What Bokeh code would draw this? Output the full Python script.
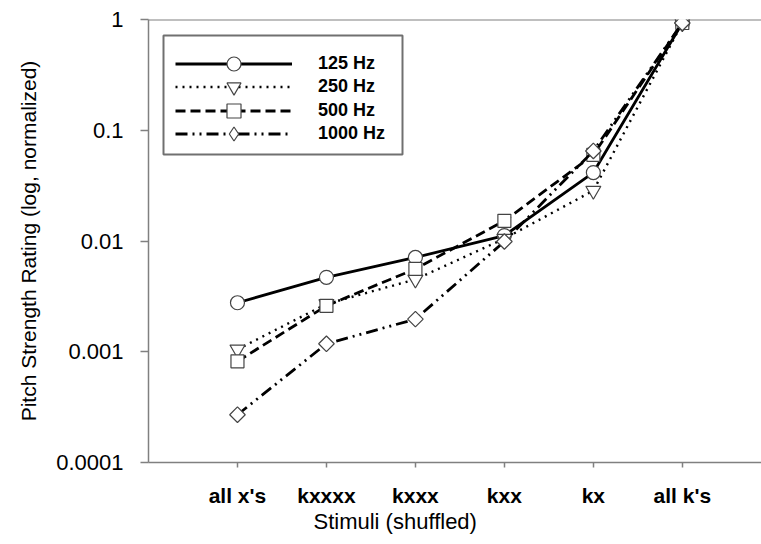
import math
from bokeh.plotting import figure
from bokeh.models import (FixedTicker, Span, Legend, LegendItem, Range1d, Title,
                          BoxAnnotation)
from bokeh.embed import file_html
from bokeh.resources import INLINE

categories = ["all x's", "kxxxx", "kxxx", "kxx", "kx", "all k's"]
x_pos = [1, 2, 3, 4, 5, 6]
hz125 = [0.00277, 0.0047, 0.0071, 0.0112, 0.0415, 0.93]
hz250 = [0.00105, 0.0027, 0.0045, 0.0105, 0.0285, 0.93]
hz500 = [0.00082, 0.0026, 0.0056, 0.0152, 0.060, 0.93]
hz1000 = [0.00027, 0.00118, 0.00197, 0.0099, 0.065, 0.93]
series_names = ["125 Hz", "250 Hz", "500 Hz", "1000 Hz"]
y_ticks = [0.0001, 0.001, 0.01, 0.1, 1]
y_tick_labels = ["0.0001", "0.001", "0.01", "0.1", "1"]

FONT = "Liberation Sans"
GREY = "#808080"

p = figure(width=761, height=544, y_axis_type="log",
           x_range=Range1d(0, 6.89), y_range=Range1d(0.0001, 1),
           output_backend="svg", toolbar_location=None,
           min_border_left=148, min_border_right=0, min_border_top=19,
           min_border_bottom=82)
p.outline_line_color = None
p.xgrid.visible = False
p.ygrid.visible = False
p.background_fill_color = "white"
p.border_fill_color = "white"

# top line at 1
p.add_layout(Span(location=1, dimension="width", line_color=GREY,
                  line_width=2, level="underlay"))

styles = [
    dict(line_dash="solid", line_width=2.8, marker="circle", size=14, angle=0, legend_marker="circle"),
    dict(line_dash="2 5", line_width=2.4, marker="inverted_triangle", size=15, angle=0, legend_marker="inverted_triangle"),
    dict(line_dash="10 5", line_width=2.8, marker="square", size=13, angle=0, legend_marker="square"),
    dict(line_dash="12 5 2 5 2 5", line_width=2.8, marker="square", size=11, angle=math.pi / 4, legend_marker="diamond"),
]
data = [hz125, hz250, hz500, hz1000]

# legend frame (screen units, relative to the plot frame)
p.add_layout(BoxAnnotation(left=15, right=254, bottom=308, top=427,
                           left_units="screen", right_units="screen",
                           bottom_units="screen", top_units="screen",
                           fill_color="white", fill_alpha=1,
                           line_color="#707070", line_width=2, line_alpha=1))

row_bottoms = [381, 358, 334, 311]
for name, vals, st, yb in zip(series_names, data, styles, row_bottoms):
    ln = p.line(x_pos, vals, line_color="black", line_width=st["line_width"],
                line_dash=st["line_dash"])
    sc = p.scatter(x_pos, vals, marker=st["marker"], size=st["size"],
                   angle=st["angle"], fill_color="white", line_color="#444444",
                   line_width=1.2)
    if st["marker"] != st["legend_marker"]:
        leg = p.scatter(x=[float("nan")], y=[float("nan")], marker=st["legend_marker"],
                        size=st["size"], fill_color="white", line_color="#444444",
                        line_width=1.2)
        item = LegendItem(label=name, renderers=[ln, leg])
    else:
        item = LegendItem(label=name, renderers=[ln, sc])
    lg = Legend(items=[item], location=(27, yb),
                glyph_width=117, glyph_height=35, spacing=0, padding=0,
                margin=0, label_standoff=26,
                label_text_font=FONT, label_text_font_size="18px",
                label_text_font_style="bold", label_text_color="black",
                border_line_color=None, background_fill_alpha=0)
    p.add_layout(lg)

# y axis
ya = p.yaxis[0]
ya.ticker = FixedTicker(ticks=y_ticks, minor_ticks=[])
ya.major_label_overrides = {t: l for t, l in zip(y_ticks, y_tick_labels)}
ya.axis_line_color = GREY
ya.axis_line_width = 1.5
ya.major_tick_line_color = GREY
ya.major_tick_line_width = 1.5
ya.major_tick_out = 8
ya.major_tick_in = 0
ya.minor_tick_line_color = None
ya.major_label_text_font = FONT
ya.major_label_text_font_size = "22px"
ya.major_label_text_color = "black"
ya.major_label_standoff = 17
ya.axis_label = "Pitch Strength Rating (log, normalized)"
ya.axis_label_text_font = FONT
ya.axis_label_text_font_size = "21px"
ya.axis_label_text_font_style = "normal"
ya.axis_label_text_color = "black"
ya.axis_label_standoff = 13

# x axis
xa = p.xaxis[0]
xa.ticker = FixedTicker(ticks=x_pos, minor_ticks=[])
xa.major_label_overrides = {x: c for x, c in zip(x_pos, categories)}
xa.axis_line_color = GREY
xa.axis_line_width = 1.5
xa.major_tick_line_color = GREY
xa.major_tick_line_width = 1.5
xa.major_tick_out = 5
xa.major_tick_in = 0
xa.minor_tick_line_color = None
xa.major_label_text_font = FONT
xa.major_label_text_font_size = "21px"
xa.major_label_text_font_style = "bold"
xa.major_label_text_color = "black"
xa.major_label_standoff = 16

p.add_layout(Title(text="Stimuli (shuffled)", align="left", offset=165,
                   text_font=FONT, text_font_size="22px",
                   text_font_style="normal", text_color="black",
                   standoff=-5), "below")

open("out.html", "w").write(file_html(p, INLINE))
